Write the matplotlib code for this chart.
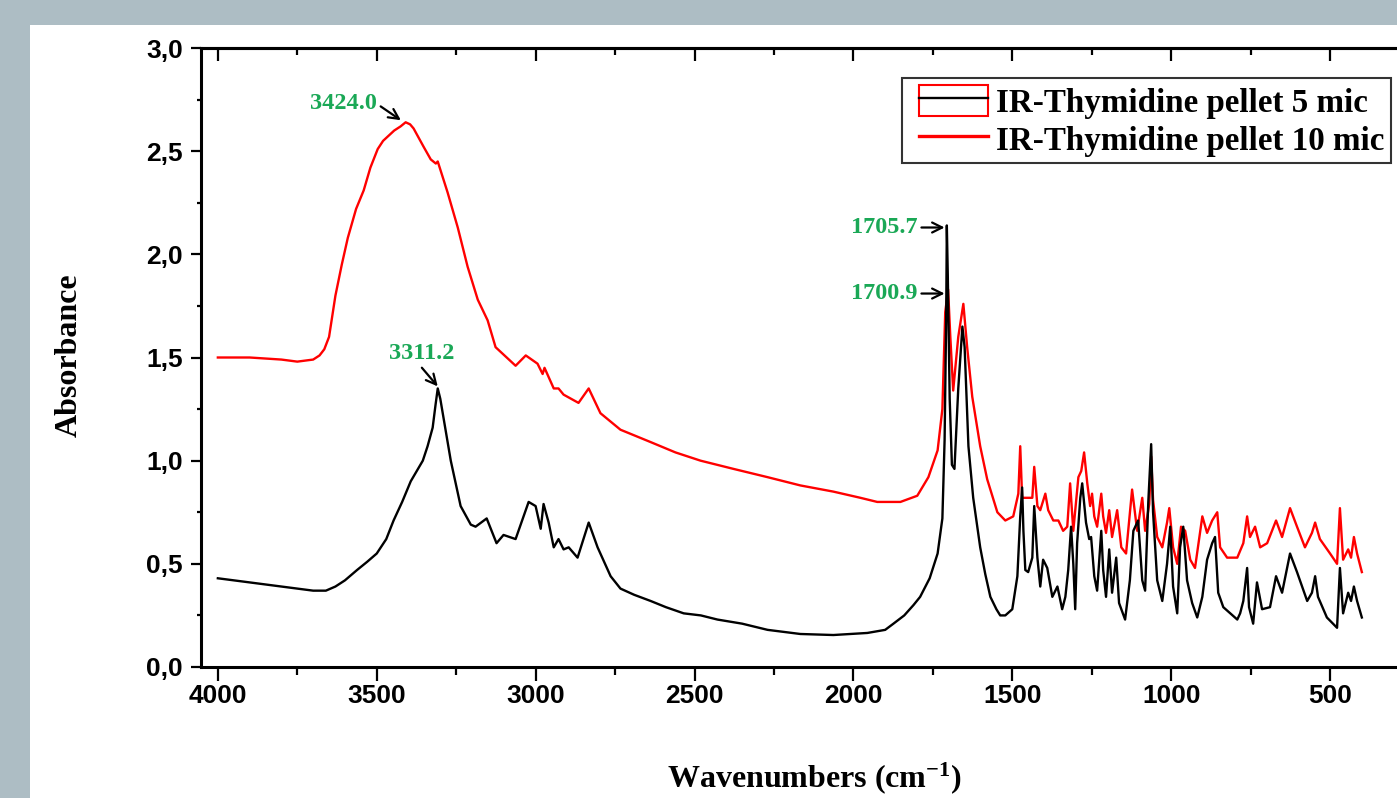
"""
    IR spectra of thymidine pellets (5 and 10 mic)
"""

import matplotlib
matplotlib.use("Agg")
import matplotlib.pyplot as plt
from matplotlib.ticker import MultipleLocator, FuncFormatter, NullFormatter
from matplotlib.patches import Rectangle
from matplotlib.lines import Line2D
from matplotlib.legend_handler import HandlerTuple, HandlerLine2D
from matplotlib.font_manager import FontProperties

# 5 mic pellet (black)
wn_5 = [4000, 3950, 3900, 3850, 3800, 3750, 3700, 3660, 3630, 3600, 3562, 3530, 3500,
        3470, 3447, 3420, 3393, 3370, 3355, 3340, 3324, 3315, 3308, 3300, 3289, 3267,
        3236, 3204, 3189, 3154, 3123, 3101, 3063, 3022, 3000, 2984, 2975, 2959, 2943,
        2928, 2912, 2896, 2868, 2833, 2805, 2764, 2733, 2690, 2638, 2590, 2534, 2480,
        2428, 2350, 2270, 2167, 2063, 1956, 1900, 1874, 1840, 1811, 1790, 1760, 1735,
        1720, 1713, 1708, 1706, 1703, 1697, 1690, 1682, 1670, 1657, 1650, 1638, 1623,
        1601, 1585, 1569, 1550, 1538, 1522, 1500, 1484, 1475, 1469, 1465, 1459, 1450,
        1437, 1431, 1421, 1412, 1403, 1390, 1374, 1358, 1343, 1333, 1324, 1315, 1308,
        1302, 1296, 1286, 1280, 1268, 1258, 1252, 1242, 1233, 1220, 1214, 1205, 1195,
        1186, 1173, 1164, 1145, 1130, 1119, 1104, 1091, 1082, 1072, 1063, 1057, 1044,
        1028, 1013, 1003, 994, 981, 972, 962, 950, 934, 918, 902, 887, 871, 862, 852,
        836, 814, 792, 783, 773, 761, 755, 742, 730, 714, 689, 670, 651, 626, 604, 572,
        557, 547, 538, 510, 478, 469, 459, 443, 434, 425, 415, 400]
abs_5 = [0.43, 0.42, 0.41, 0.40, 0.39, 0.38, 0.37, 0.37, 0.39, 0.42, 0.47, 0.51, 0.55,
         0.62, 0.71, 0.80, 0.90, 0.96, 1.00, 1.07, 1.16, 1.27, 1.35, 1.30, 1.20, 1.00,
         0.78, 0.69, 0.68, 0.72, 0.60, 0.64, 0.62, 0.80, 0.78, 0.67, 0.79, 0.70, 0.58,
         0.62, 0.57, 0.58, 0.53, 0.70, 0.58, 0.44, 0.38, 0.35, 0.32, 0.29, 0.26, 0.25,
         0.23, 0.21, 0.18, 0.16, 0.155, 0.165, 0.18, 0.21, 0.25, 0.30, 0.34, 0.43, 0.55,
         0.72, 1.10, 1.70, 2.14, 1.90, 1.30, 0.98, 0.96, 1.35, 1.65, 1.55, 1.07, 0.82,
         0.58, 0.45, 0.34, 0.28, 0.25, 0.25, 0.28, 0.44, 0.73, 0.87, 0.66, 0.47, 0.46,
         0.53, 0.78, 0.53, 0.39, 0.52, 0.48, 0.34, 0.39, 0.28, 0.34, 0.47, 0.68, 0.50,
         0.28, 0.60, 0.82, 0.89, 0.70, 0.62, 0.63, 0.44, 0.37, 0.66, 0.47, 0.34, 0.57,
         0.36, 0.53, 0.31, 0.23, 0.42, 0.66, 0.71, 0.42, 0.37, 0.80, 1.08, 0.75, 0.42,
         0.32, 0.50, 0.68, 0.39, 0.26, 0.58, 0.68, 0.42, 0.31, 0.24, 0.34, 0.52, 0.60,
         0.63, 0.36, 0.29, 0.26, 0.23, 0.26, 0.32, 0.48, 0.29, 0.21, 0.41, 0.28, 0.29,
         0.44, 0.36, 0.55, 0.46, 0.32, 0.36, 0.44, 0.34, 0.24, 0.19, 0.48, 0.26, 0.36,
         0.32, 0.39, 0.32, 0.24]

# 10 mic pellet (red)
wn_10 = [4000, 3900, 3800, 3750, 3700, 3680, 3665, 3650, 3640, 3630, 3610, 3591, 3565,
         3541, 3520, 3497, 3480, 3466, 3445, 3425, 3409, 3395, 3384, 3352, 3330, 3314,
         3308, 3277, 3245, 3214, 3182, 3151, 3126, 3063, 3031, 2994, 2978, 2972, 2943,
         2928, 2912, 2865, 2833, 2796, 2733, 2638, 2560, 2481, 2377, 2270, 2167, 2063,
         1978, 1925, 1852, 1799, 1764, 1735, 1720, 1711, 1702, 1695, 1686, 1670, 1654,
         1642, 1626, 1601, 1579, 1547, 1522, 1497, 1481, 1475, 1469, 1453, 1437, 1431,
         1421, 1412, 1396, 1387, 1371, 1355, 1340, 1327, 1318, 1308, 1292, 1283, 1274,
         1264, 1255, 1249, 1242, 1233, 1220, 1214, 1205, 1195, 1186, 1170, 1157, 1142,
         1123, 1107, 1091, 1082, 1069, 1063, 1057, 1044, 1028, 1013, 1006, 994, 981,
         969, 956, 940, 925, 902, 887, 871, 855, 846, 824, 792, 773, 761, 752, 736, 720,
         698, 670, 651, 626, 604, 579, 557, 547, 532, 500, 478, 469, 459, 443, 434, 425,
         415, 400]
abs_10 = [1.50, 1.50, 1.49, 1.48, 1.49, 1.51, 1.54, 1.60, 1.70, 1.80, 1.95, 2.08, 2.22,
          2.31, 2.42, 2.51, 2.55, 2.57, 2.60, 2.62, 2.64, 2.63, 2.61, 2.52, 2.46, 2.44,
          2.45, 2.30, 2.13, 1.94, 1.78, 1.68, 1.55, 1.46, 1.51, 1.47, 1.42, 1.45, 1.35,
          1.35, 1.32, 1.28, 1.35, 1.23, 1.15, 1.09, 1.04, 1.00, 0.96, 0.92, 0.88, 0.85,
          0.82, 0.80, 0.80, 0.83, 0.92, 1.05, 1.25, 1.72, 1.83, 1.60, 1.34, 1.60, 1.76,
          1.55, 1.31, 1.07, 0.91, 0.75, 0.71, 0.73, 0.84, 1.07, 0.82, 0.82, 0.82, 0.97,
          0.78, 0.76, 0.84, 0.76, 0.71, 0.71, 0.66, 0.68, 0.89, 0.66, 0.92, 0.95, 1.04,
          0.89, 0.78, 0.84, 0.73, 0.68, 0.84, 0.73, 0.65, 0.76, 0.63, 0.76, 0.58, 0.55,
          0.86, 0.66, 0.82, 0.66, 0.79, 1.02, 0.81, 0.63, 0.58, 0.70, 0.77, 0.58, 0.50,
          0.68, 0.66, 0.52, 0.48, 0.73, 0.65, 0.71, 0.75, 0.58, 0.53, 0.53, 0.60, 0.73,
          0.63, 0.68, 0.58, 0.60, 0.71, 0.63, 0.77, 0.68, 0.58, 0.65, 0.70, 0.62, 0.55,
          0.50, 0.77, 0.52, 0.57, 0.53, 0.63, 0.55, 0.46]

# peak labels: text, peak (x, y), text position (x, y)
peak_labels = ["3424.0", "3311.2", "1705.7", "1700.9"]
peak_xy = [(3424, 2.65), (3308, 1.36), (1713, 2.13), (1713, 1.81)]
label_xy = [(3500, 2.73), (3358, 1.52), (1799, 2.13), (1799, 1.81)]

series_labels = ["IR-Thymidine pellet 5 mic", "IR-Thymidine pellet 10 mic"]

W, H = 1397, 798
GREEN = "#1aa856"


def main():
    plt.rcParams["mathtext.fontset"] = "custom"
    plt.rcParams["mathtext.default"] = "regular"

    fig = plt.figure(figsize=(W / 100, H / 100), dpi=100)
    fig.patch.set_facecolor("#adbdc4")
    fig.add_artist(Rectangle((30 / W, 0), 1, 1 - 25 / H, transform=fig.transFigure,
                             facecolor="white", edgecolor="none", zorder=-10))

    # axes run past the right edge, like the cropped original
    ax = fig.add_axes([201 / W, 1 - 667 / H, (1420 - 201) / W, (667 - 48) / H])
    l_red, = ax.plot(wn_10, abs_10, color="red", lw=1.7)
    l_black, = ax.plot(wn_5, abs_5, color="black", lw=1.7)

    ax.set_xlim(4053, 217)
    ax.set_ylim(0, 3)

    tick_font = FontProperties(family="Liberation Sans", weight="bold", size=19)
    ax.xaxis.set_major_locator(MultipleLocator(500))
    ax.xaxis.set_minor_locator(MultipleLocator(250))
    ax.yaxis.set_major_locator(MultipleLocator(0.5))
    ax.yaxis.set_minor_locator(MultipleLocator(0.25))
    ax.yaxis.set_major_formatter(FuncFormatter(lambda v, p: f"{v:.1f}".replace(".", ",")))
    ax.xaxis.set_major_formatter(FuncFormatter(lambda v, p: f"{v:.0f}"))
    ax.tick_params(axis="x", which="major", direction="out", length=10, width=1.6, pad=2)
    ax.tick_params(axis="x", which="minor", direction="out", length=6, width=1.6)
    ax.tick_params(axis="y", which="major", direction="out", length=7, width=1.6, pad=6)
    ax.tick_params(axis="y", which="minor", direction="out", length=3, width=1.6)
    for lab in ax.get_xticklabels() + ax.get_yticklabels():
        lab.set_fontproperties(tick_font)
    for sp in ax.spines.values():
        sp.set_linewidth(2.2)

    # top axis: inward ticks, no labels
    top = ax.secondary_xaxis("top")
    top.xaxis.set_major_locator(MultipleLocator(500))
    top.xaxis.set_minor_locator(MultipleLocator(250))
    top.xaxis.set_major_formatter(NullFormatter())
    top.tick_params(which="major", direction="in", length=9, width=1.6)
    top.tick_params(which="minor", direction="in", length=5, width=1.6)
    top.spines["top"].set_linewidth(2.2)

    # peak annotations
    ann_font = FontProperties(family="Liberation Serif", weight="bold", size=17.5)
    for txt, xy, xyt in zip(peak_labels, peak_xy, label_xy):
        if txt == "3311.2":
            ha, rel = "center", (0.45, 0.0)
        else:
            ha, rel = "right", (1.0, 0.5)
        ax.annotate(txt, xy=xy, xytext=xyt, ha=ha, va="center", color=GREEN,
                    fontproperties=ann_font,
                    arrowprops=dict(arrowstyle="->", color="black", lw=1.6,
                                    mutation_scale=18, relpos=rel,
                                    shrinkA=1, shrinkB=0))

    # axis titles
    lab_font = FontProperties(family="Liberation Serif", weight="bold", size=23)
    fig.text(69 / W, 1 - 355 / H, "Absorbance", rotation=90, ha="center", va="center",
             fontproperties=lab_font)
    fig.text(814 / W, 1 - 778 / H, "Wavenumbers (cm$^{-1}$)", ha="center", va="center",
             fontproperties=lab_font)

    # legend: the 5 mic entry has a red box drawn around its line
    box = Rectangle((0, 0), 1, 1, facecolor="white", edgecolor="red", lw=1.5)
    leg = ax.legend([(box, l_black), l_red], series_labels,
                    handler_map={tuple: HandlerTuple(ndivide=1, pad=0, xpad=0.3),
                                 Line2D: HandlerLine2D(xpad=0.3)},
                    loc="upper left", bbox_to_anchor=(902 / W, 1 - 78 / H),
                    bbox_transform=fig.transFigure, borderaxespad=0,
                    prop=FontProperties(family="Liberation Serif", weight="bold", size=23.8),
                    frameon=True, fancybox=False, handlelength=2.4, handleheight=1.1,
                    handletextpad=0.25, borderpad=0.2, labelspacing=0.12)
    leg.get_frame().set_edgecolor("black")
    leg.get_frame().set_linewidth(1.5)
    for ln in leg.get_lines():
        ln.set_linewidth(2.4)

    fig.savefig("out.png", dpi=100, facecolor=fig.get_facecolor())


if __name__ == "__main__":
    main()
